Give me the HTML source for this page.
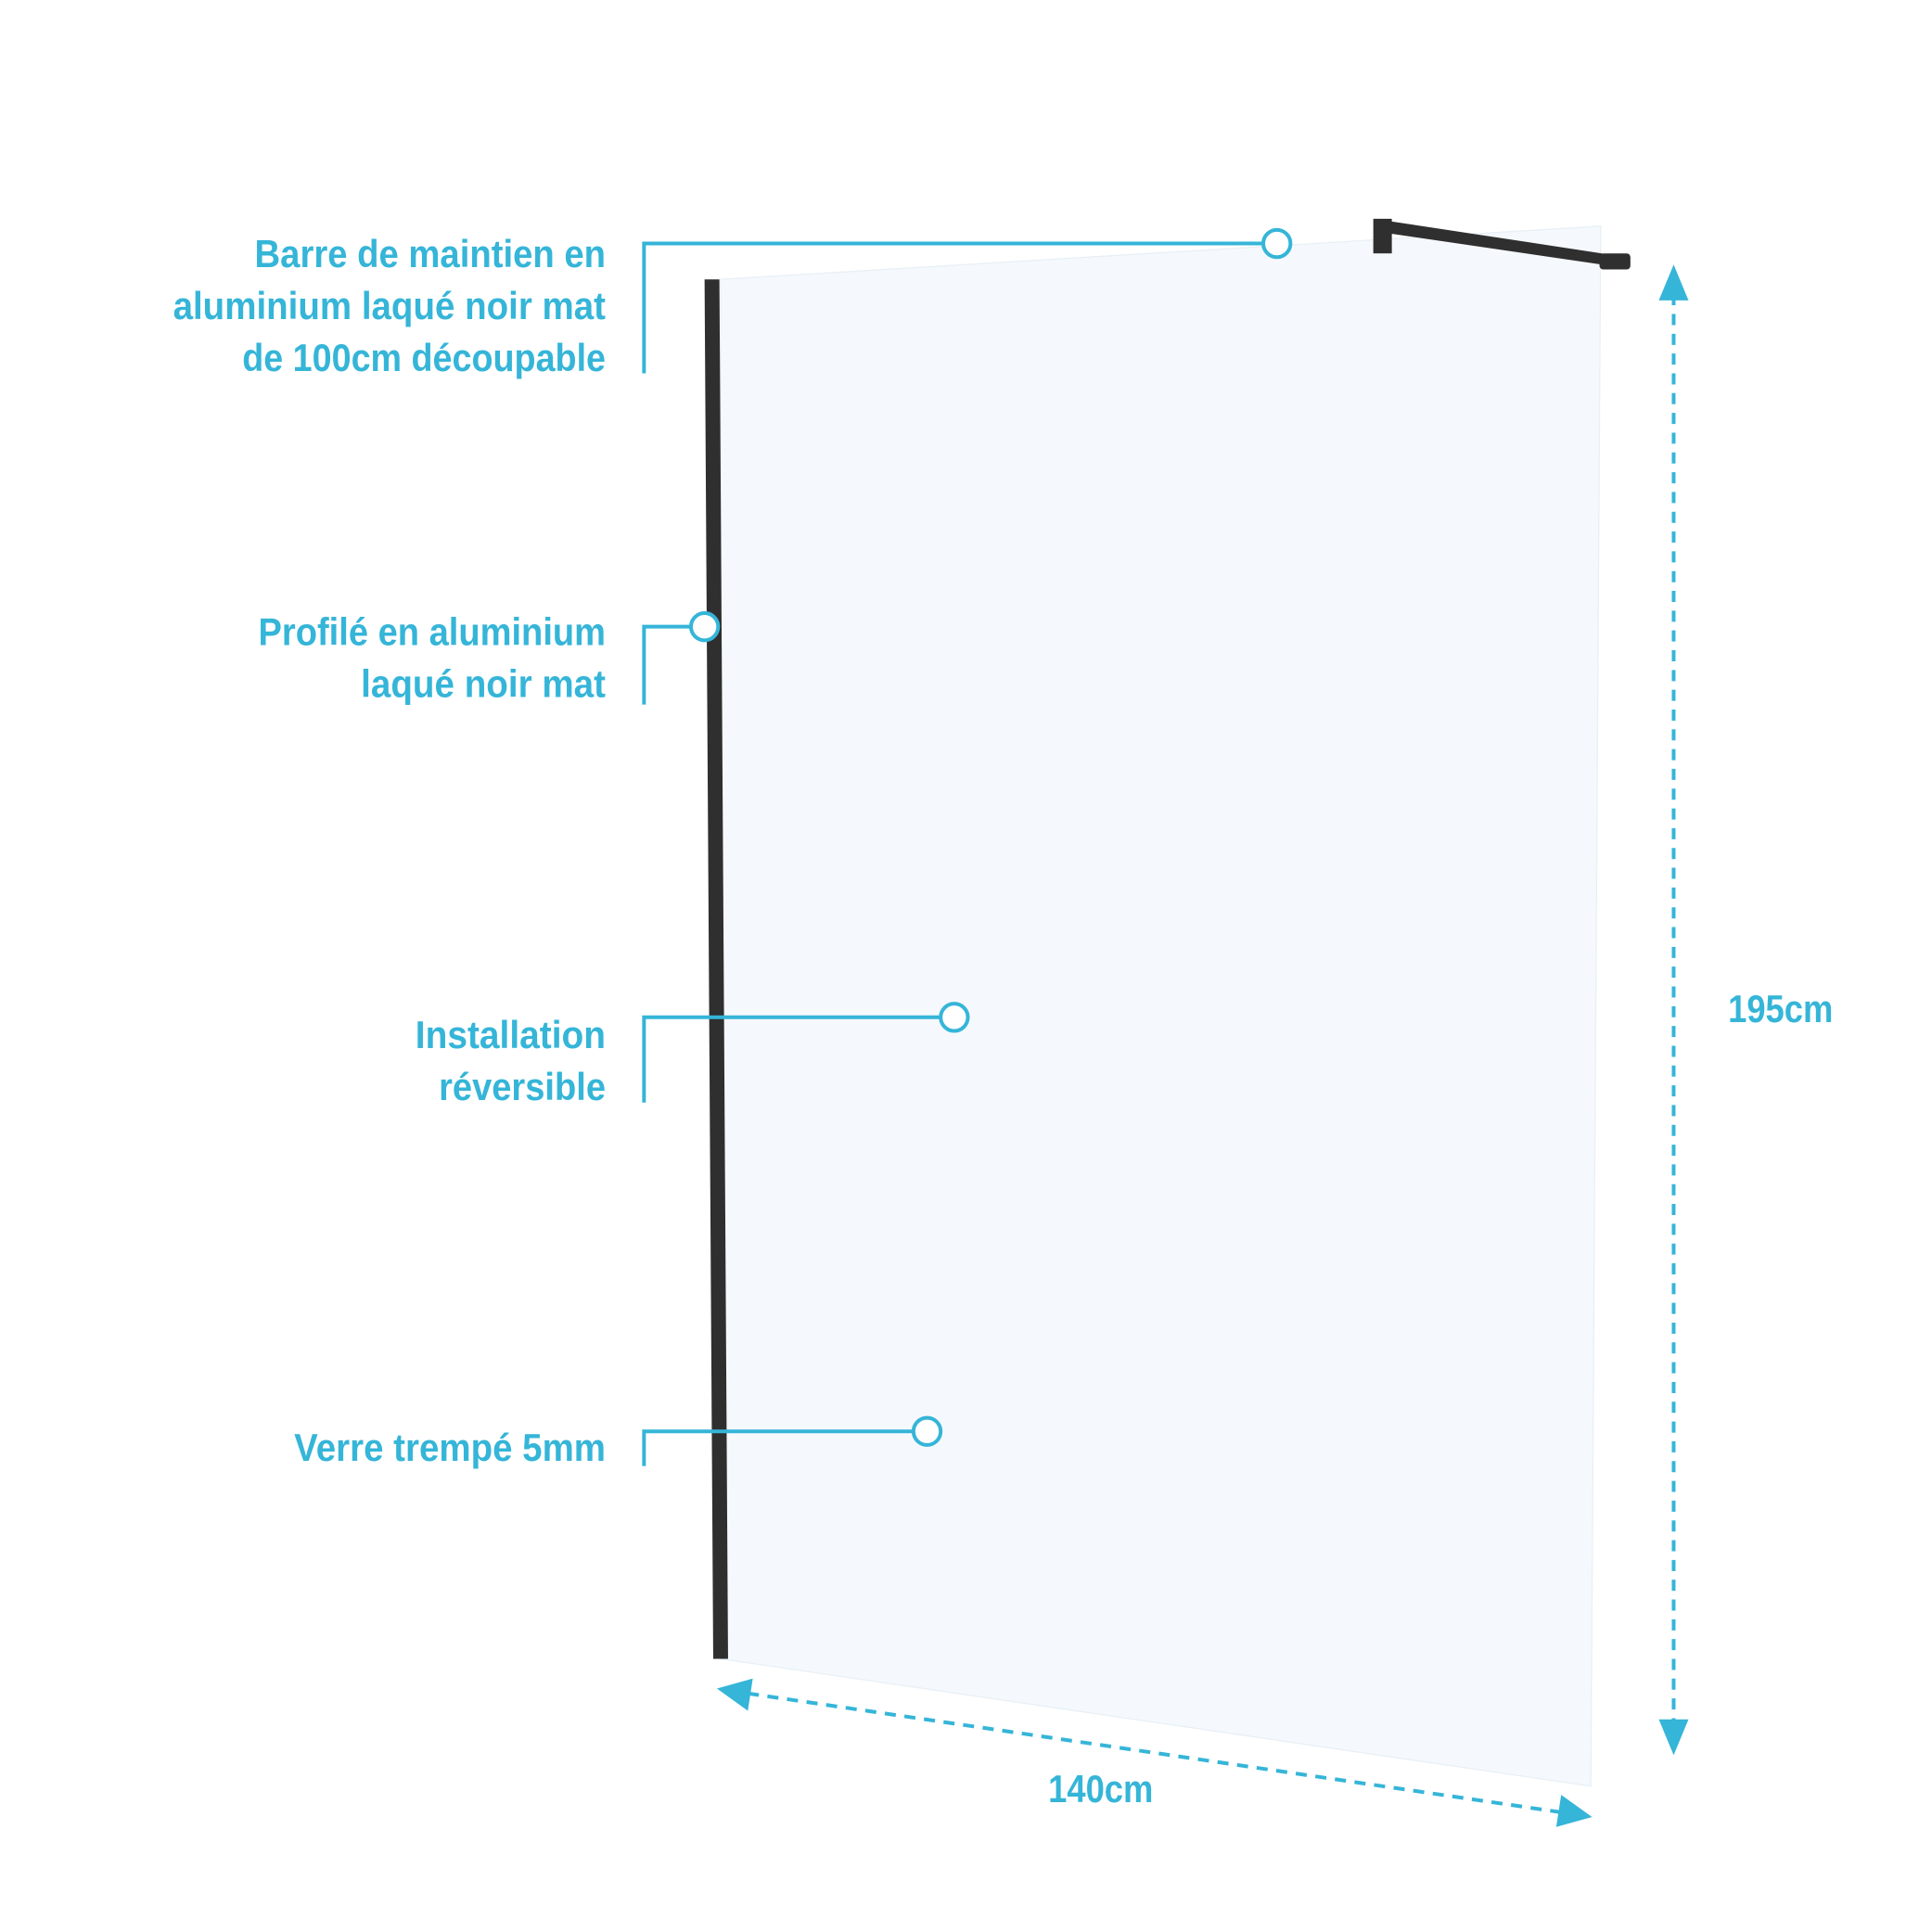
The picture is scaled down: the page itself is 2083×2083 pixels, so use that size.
<!DOCTYPE html>
<html><head><meta charset="utf-8"><style>html,body{margin:0;padding:0;background:#fff}svg{display:block}</style></head>
<body>
<svg width="2083" height="2083" viewBox="0 0 1563 1563" xmlns="http://www.w3.org/2000/svg">
<defs>
<marker id="ar" viewBox="0 0 10 10" refX="9" refY="5" markerWidth="6" markerHeight="6" orient="auto-start-reverse" markerUnits="userSpaceOnUse">
</marker>
</defs>
<!-- glass -->
<polygon points="583,226 1295,183 1287,1445 583,1342" fill="#f5f9fd" stroke="#e8f0f6" stroke-width="1"/>
<!-- profile -->
<polygon points="570,226 582,226 589,1342 577,1342" fill="#2f2f2f"/>
<!-- bar -->
<polygon points="1118,178 1296,205 1296,214 1118,188" fill="#2f2f2f"/>
<rect x="1111" y="177" width="15" height="28" fill="#2f2f2f"/>
<rect x="1294" y="205" width="25" height="13" rx="3" fill="#2f2f2f"/>
<g font-family="'Liberation Sans Narrow','Liberation Sans',sans-serif" font-weight="bold" font-size="31" fill="#35b5d8" text-anchor="end">
<text x="490" y="216" textLength="284" lengthAdjust="spacingAndGlyphs">Barre de maintien en</text>
<text x="490" y="258" textLength="350" lengthAdjust="spacingAndGlyphs">aluminium laqué noir mat</text>
<text x="490" y="300" textLength="294" lengthAdjust="spacingAndGlyphs">de 100cm découpable</text>
<text x="490" y="522" textLength="281" lengthAdjust="spacingAndGlyphs">Profilé en aluminium</text>
<text x="490" y="564" textLength="198" lengthAdjust="spacingAndGlyphs">laqué noir mat</text>
<text x="490" y="848" textLength="154" lengthAdjust="spacingAndGlyphs">Installation</text>
<text x="490" y="890" textLength="135" lengthAdjust="spacingAndGlyphs">réversible</text>
<text x="490" y="1182" textLength="252" lengthAdjust="spacingAndGlyphs">Verre trempé 5mm</text>
<text x="1483" y="827" textLength="85" lengthAdjust="spacingAndGlyphs">195cm</text>
<text x="933" y="1458" textLength="85" lengthAdjust="spacingAndGlyphs">140cm</text>
</g>
<g stroke="#35b5d8" stroke-width="3" fill="none">
<polyline points="521,302 521,197 1022,197"/><circle cx="1033" cy="197" r="11" fill="#fff"/>
<polyline points="521,570 521,507 559,507"/><circle cx="570" cy="507" r="11" fill="#fff"/>
<polyline points="521,892 521,823 761,823"/><circle cx="772" cy="823" r="11" fill="#fff"/>
<polyline points="521,1186 521,1158 739,1158"/><circle cx="750" cy="1158" r="11" fill="#fff"/>
<line x1="1354" y1="238" x2="1354" y2="1395" stroke-dasharray="9,7"/>
<line x1="605" y1="1370" x2="1262" y2="1466" stroke-dasharray="9,7"/>
</g>
<g fill="#35b5d8">
<polygon points="1354,214 1342,243 1366,243"/>
<polygon points="1354,1420 1342,1391 1366,1391"/>
<polygon points="580,1366 609,1358 605,1384"/>
<polygon points="1288,1470 1259,1478 1263,1452"/>
</g>
</svg>
</body></html>
